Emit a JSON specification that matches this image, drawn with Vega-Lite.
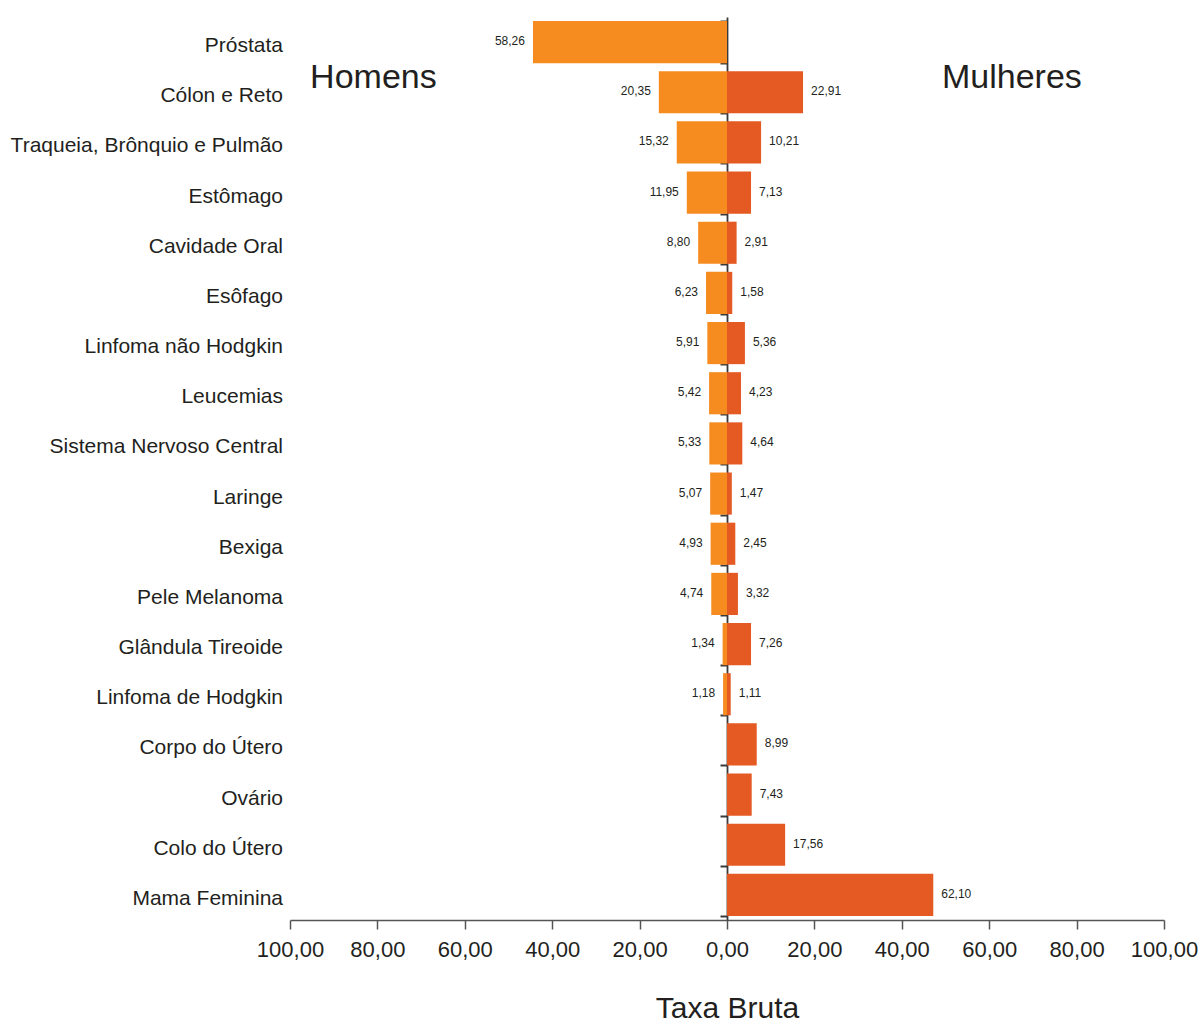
{
  "$schema": "https://vega.github.io/schema/vega-lite/v6.json",
  "width": 874,
  "height": 903,
  "autosize": {"type": "none"},
  "padding": {"left": 290, "top": 17, "right": 36, "bottom": 107},
  "background": "white",
  "config": {
    "view": {"stroke": null},
    "locale": {"number": {"decimal": ",", "thousands": ".", "grouping": [3], "currency": ["R$", ""]}},
    "font": "Liberation Sans"
  },
  "datasets": {
    "taxas": [
      {"cancer": "Próstata", "sexo": "Homens", "barra": -44.4, "taxa": 58.26},
      {"cancer": "Cólon e Reto", "sexo": "Homens", "barra": -15.6, "taxa": 20.35},
      {"cancer": "Cólon e Reto", "sexo": "Mulheres", "barra": 17.4, "taxa": 22.91},
      {"cancer": "Traqueia, Brônquio e Pulmão", "sexo": "Homens", "barra": -11.5, "taxa": 15.32},
      {"cancer": "Traqueia, Brônquio e Pulmão", "sexo": "Mulheres", "barra": 7.8, "taxa": 10.21},
      {"cancer": "Estômago", "sexo": "Homens", "barra": -9.2, "taxa": 11.95},
      {"cancer": "Estômago", "sexo": "Mulheres", "barra": 5.5, "taxa": 7.13},
      {"cancer": "Cavidade Oral", "sexo": "Homens", "barra": -6.6, "taxa": 8.80},
      {"cancer": "Cavidade Oral", "sexo": "Mulheres", "barra": 2.2, "taxa": 2.91},
      {"cancer": "Esôfago", "sexo": "Homens", "barra": -4.8, "taxa": 6.23},
      {"cancer": "Esôfago", "sexo": "Mulheres", "barra": 1.2, "taxa": 1.58},
      {"cancer": "Linfoma não Hodgkin", "sexo": "Homens", "barra": -4.5, "taxa": 5.91},
      {"cancer": "Linfoma não Hodgkin", "sexo": "Mulheres", "barra": 4.1, "taxa": 5.36},
      {"cancer": "Leucemias", "sexo": "Homens", "barra": -4.1, "taxa": 5.42},
      {"cancer": "Leucemias", "sexo": "Mulheres", "barra": 3.2, "taxa": 4.23},
      {"cancer": "Sistema Nervoso Central", "sexo": "Homens", "barra": -4.05, "taxa": 5.33},
      {"cancer": "Sistema Nervoso Central", "sexo": "Mulheres", "barra": 3.5, "taxa": 4.64},
      {"cancer": "Laringe", "sexo": "Homens", "barra": -3.85, "taxa": 5.07},
      {"cancer": "Laringe", "sexo": "Mulheres", "barra": 1.1, "taxa": 1.47},
      {"cancer": "Bexiga", "sexo": "Homens", "barra": -3.75, "taxa": 4.93},
      {"cancer": "Bexiga", "sexo": "Mulheres", "barra": 1.9, "taxa": 2.45},
      {"cancer": "Pele Melanoma", "sexo": "Homens", "barra": -3.6, "taxa": 4.74},
      {"cancer": "Pele Melanoma", "sexo": "Mulheres", "barra": 2.5, "taxa": 3.32},
      {"cancer": "Glândula Tireoide", "sexo": "Homens", "barra": -1.0, "taxa": 1.34},
      {"cancer": "Glândula Tireoide", "sexo": "Mulheres", "barra": 5.5, "taxa": 7.26},
      {"cancer": "Linfoma de Hodgkin", "sexo": "Homens", "barra": -0.9, "taxa": 1.18},
      {"cancer": "Linfoma de Hodgkin", "sexo": "Mulheres", "barra": 0.85, "taxa": 1.11},
      {"cancer": "Corpo do Útero", "sexo": "Mulheres", "barra": 6.8, "taxa": 8.99},
      {"cancer": "Ovário", "sexo": "Mulheres", "barra": 5.65, "taxa": 7.43},
      {"cancer": "Colo do Útero", "sexo": "Mulheres", "barra": 13.3, "taxa": 17.56},
      {"cancer": "Mama Feminina", "sexo": "Mulheres", "barra": 47.2, "taxa": 62.10}
    ],
    "categorias": [
      {"cancer": "Próstata"}, {"cancer": "Cólon e Reto"}, {"cancer": "Traqueia, Brônquio e Pulmão"},
      {"cancer": "Estômago"}, {"cancer": "Cavidade Oral"}, {"cancer": "Esôfago"},
      {"cancer": "Linfoma não Hodgkin"}, {"cancer": "Leucemias"}, {"cancer": "Sistema Nervoso Central"},
      {"cancer": "Laringe"}, {"cancer": "Bexiga"}, {"cancer": "Pele Melanoma"},
      {"cancer": "Glândula Tireoide"}, {"cancer": "Linfoma de Hodgkin"}, {"cancer": "Corpo do Útero"},
      {"cancer": "Ovário"}, {"cancer": "Colo do Útero"}, {"cancer": "Mama Feminina"}
    ],
    "rotulos": [
      {"cancer": "Cólon e Reto", "sexo": "Homens", "pos": -95.4},
      {"cancer": "Cólon e Reto", "sexo": "Mulheres", "pos": 49.2}
    ]
  },
  "layer": [
    {
      "data": {"name": "taxas"},
      "mark": {"type": "bar"},
      "encoding": {
        "y": {
          "field": "cancer", "type": "nominal",
          "sort": ["Próstata", "Cólon e Reto", "Traqueia, Brônquio e Pulmão", "Estômago", "Cavidade Oral", "Esôfago", "Linfoma não Hodgkin", "Leucemias", "Sistema Nervoso Central", "Laringe", "Bexiga", "Pele Melanoma", "Glândula Tireoide", "Linfoma de Hodgkin", "Corpo do Útero", "Ovário", "Colo do Útero", "Mama Feminina"],
          "scale": {"paddingInner": 0.16, "paddingOuter": 0.08},
          "axis": {
            "orient": "left", "offset": -437, "title": null, "labels": false,
            "domain": true, "domainColor": "#3a3a3a", "domainWidth": 1.8,
            "ticks": true, "tickBand": "extent", "tickSize": 7, "tickColor": "#3a3a3a", "tickWidth": 2
          }
        },
        "x": {
          "field": "barra", "type": "quantitative",
          "scale": {"domain": [-100, 100], "nice": false, "zero": false},
          "axis": {
            "title": "Taxa Bruta", "titleFontSize": 30, "titleFontWeight": "normal",
            "titleColor": "#231f20", "titlePadding": 33,
            "values": [-100, -80, -60, -40, -20, 0, 20, 40, 60, 80, 100],
            "labelExpr": "replace(format(abs(datum.value), '.2f'), '.', ',')",
            "labelFontSize": 22, "labelColor": "#231f20", "labelPadding": 10,
            "labelFlush": false,
            "grid": false, "domainColor": "#555555", "domainWidth": 1.5,
            "tickColor": "#555555", "tickSize": 9, "tickWidth": 1.5
          }
        },
        "color": {
          "field": "sexo", "type": "nominal",
          "scale": {"domain": ["Homens", "Mulheres"], "range": ["#f68b1f", "#e45a22"]},
          "legend": null
        }
      }
    },
    {
      "data": {"name": "categorias"},
      "mark": {"type": "text", "align": "right", "baseline": "middle", "dx": -7, "dy": 4, "fontSize": 21, "color": "#231f20"},
      "encoding": {
        "y": {"field": "cancer", "type": "nominal", "sort": ["Próstata", "Cólon e Reto", "Traqueia, Brônquio e Pulmão", "Estômago", "Cavidade Oral", "Esôfago", "Linfoma não Hodgkin", "Leucemias", "Sistema Nervoso Central", "Laringe", "Bexiga", "Pele Melanoma", "Glândula Tireoide", "Linfoma de Hodgkin", "Corpo do Útero", "Ovário", "Colo do Útero", "Mama Feminina"]},
        "x": {"datum": -100, "type": "quantitative"},
        "text": {"field": "cancer", "type": "nominal"}
      }
    },
    {
      "data": {"name": "taxas"},
      "transform": [{"filter": "datum.sexo == 'Homens'"}],
      "mark": {"type": "text", "align": "right", "baseline": "middle", "dx": -8, "dy": -1, "fontSize": 12, "color": "#231f20"},
      "encoding": {
        "y": {"field": "cancer", "type": "nominal", "sort": ["Próstata", "Cólon e Reto", "Traqueia, Brônquio e Pulmão", "Estômago", "Cavidade Oral", "Esôfago", "Linfoma não Hodgkin", "Leucemias", "Sistema Nervoso Central", "Laringe", "Bexiga", "Pele Melanoma", "Glândula Tireoide", "Linfoma de Hodgkin", "Corpo do Útero", "Ovário", "Colo do Útero", "Mama Feminina"]},
        "x": {"field": "barra", "type": "quantitative"},
        "text": {"field": "taxa", "type": "quantitative", "format": ".2f"}
      }
    },
    {
      "data": {"name": "taxas"},
      "transform": [{"filter": "datum.sexo == 'Mulheres'"}],
      "mark": {"type": "text", "align": "left", "baseline": "middle", "dx": 8, "dy": -1, "fontSize": 12, "color": "#231f20"},
      "encoding": {
        "y": {"field": "cancer", "type": "nominal", "sort": ["Próstata", "Cólon e Reto", "Traqueia, Brônquio e Pulmão", "Estômago", "Cavidade Oral", "Esôfago", "Linfoma não Hodgkin", "Leucemias", "Sistema Nervoso Central", "Laringe", "Bexiga", "Pele Melanoma", "Glândula Tireoide", "Linfoma de Hodgkin", "Corpo do Útero", "Ovário", "Colo do Útero", "Mama Feminina"]},
        "x": {"field": "barra", "type": "quantitative"},
        "text": {"field": "taxa", "type": "quantitative", "format": ".2f"}
      }
    },
    {
      "data": {"name": "rotulos"},
      "mark": {"type": "text", "align": "left", "baseline": "middle", "dy": -14, "fontSize": 34, "color": "#231f20"},
      "encoding": {
        "y": {"field": "cancer", "type": "nominal", "sort": ["Próstata", "Cólon e Reto", "Traqueia, Brônquio e Pulmão", "Estômago", "Cavidade Oral", "Esôfago", "Linfoma não Hodgkin", "Leucemias", "Sistema Nervoso Central", "Laringe", "Bexiga", "Pele Melanoma", "Glândula Tireoide", "Linfoma de Hodgkin", "Corpo do Útero", "Ovário", "Colo do Útero", "Mama Feminina"]},
        "x": {"field": "pos", "type": "quantitative"},
        "text": {"field": "sexo", "type": "nominal"}
      }
    }
  ]
}
